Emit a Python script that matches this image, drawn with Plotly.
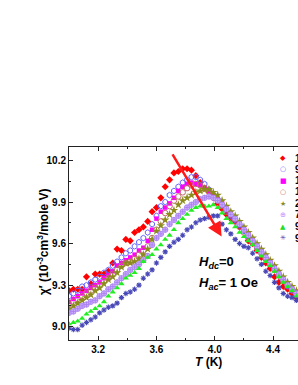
import plotly.graph_objects as go

T = [3.00,3.03,3.06,3.09,3.12,3.15,3.18,3.21,3.24,3.27,
     3.30,3.33,3.36,3.39,3.42,3.45,3.48,3.51,3.54,3.57,
     3.60,3.63,3.66,3.69,3.72,3.75,3.78,3.81,3.84,3.87,
     3.90,3.93,3.96,3.99,4.02,4.05,4.08,4.11,4.14,4.17,
     4.20,4.23,4.26,4.29,4.32,4.35,4.38,4.41,4.44,4.47,
     4.50,4.53,4.56]

chi_s1 = [9.26,9.27,9.27,9.27,9.36,9.31,9.38,9.38,9.38,9.40,
          9.46,9.56,9.55,9.63,9.62,9.68,9.70,9.72,9.76,9.83,
          9.86,9.93,10.01,10.06,10.11,10.12,10.14,10.14,10.13,10.09,
          10.04,10.00,9.97,9.93,9.89,9.85,9.81,9.78,9.76,9.72,
          9.70,9.62,9.60,9.55,9.50,9.46,9.42,9.36,9.32,9.29,
          9.27,9.24,9.21]
chi_s2 = [9.22,9.24,9.26,9.29,9.30,9.32,9.34,9.36,9.39,9.41,
          9.44,9.47,9.50,9.53,9.55,9.58,9.61,9.64,9.68,9.74,
          9.80,9.87,9.90,9.95,9.98,10.01,10.04,10.06,10.08,10.08,
          10.06,10.03,9.99,9.95,9.92,9.88,9.84,9.80,9.77,9.73,
          9.69,9.65,9.61,9.57,9.53,9.49,9.45,9.41,9.37,9.33,
          9.29,9.26,9.23]
chi_s3 = [9.18,9.20,9.22,9.24,9.26,9.28,9.30,9.32,9.35,9.37,
          9.40,9.44,9.46,9.48,9.50,9.52,9.55,9.57,9.62,9.70,
          9.78,9.83,9.86,9.89,9.93,9.98,10.01,10.03,10.04,10.03,
          10.02,10.00,9.98,9.95,9.92,9.89,9.85,9.81,9.78,9.74,
          9.71,9.67,9.63,9.59,9.55,9.51,9.47,9.43,9.39,9.34,
          9.31,9.27,9.24]
chi_s4 = [9.16,9.18,9.20,9.22,9.24,9.26,9.28,9.30,9.33,9.35,
          9.38,9.41,9.44,9.46,9.47,9.49,9.52,9.55,9.58,9.64,
          9.70,9.76,9.82,9.87,9.91,9.94,9.97,10.00,10.02,10.03,
          10.02,10.00,9.98,9.95,9.91,9.87,9.83,9.79,9.76,9.72,
          9.68,9.64,9.61,9.57,9.53,9.49,9.45,9.41,9.37,9.33,
          9.30,9.27,9.24]
chi_s5 = [9.13,9.15,9.17,9.19,9.21,9.23,9.26,9.28,9.31,9.34,
          9.36,9.39,9.43,9.46,9.46,9.47,9.49,9.52,9.56,9.63,
          9.69,9.73,9.77,9.81,9.84,9.88,9.91,9.93,9.95,9.97,
          9.98,9.99,9.99,9.97,9.95,9.91,9.87,9.83,9.80,9.76,
          9.72,9.68,9.64,9.60,9.56,9.52,9.48,9.44,9.40,9.36,
          9.32,9.29,9.26]
chi_s6 = [9.10,9.11,9.13,9.15,9.16,9.18,9.19,9.22,9.24,9.27,
          9.29,9.32,9.35,9.38,9.41,9.43,9.45,9.48,9.51,9.59,
          9.64,9.67,9.70,9.74,9.77,9.80,9.83,9.86,9.88,9.90,
          9.92,9.93,9.94,9.93,9.91,9.88,9.85,9.81,9.78,9.74,
          9.70,9.66,9.62,9.58,9.54,9.50,9.46,9.42,9.38,9.34,
          9.30,9.27,9.24]
chi_s7 = [9.02,9.03,9.04,9.06,9.09,9.11,9.13,9.15,9.18,9.22,
          9.25,9.28,9.31,9.35,9.37,9.39,9.42,9.47,9.50,9.52,
          9.56,9.59,9.63,9.66,9.70,9.75,9.78,9.81,9.84,9.86,
          9.87,9.87,9.87,9.88,9.86,9.82,9.78,9.75,9.72,9.68,
          9.65,9.62,9.59,9.55,9.51,9.47,9.44,9.40,9.36,9.32,
          9.29,9.26,9.22]
chi_s8 = [8.99,8.98,8.98,9.01,9.03,9.05,9.07,9.10,9.12,9.14,
          9.15,9.17,9.21,9.24,9.25,9.27,9.30,9.35,9.38,9.41,
          9.46,9.50,9.54,9.58,9.61,9.63,9.66,9.70,9.72,9.75,
          9.77,9.78,9.79,9.80,9.80,9.74,9.70,9.67,9.63,9.60,
          9.58,9.57,9.53,9.49,9.45,9.40,9.37,9.32,9.28,9.24,
          9.22,9.21,9.19]

series_labels = ["1 Hz", "9 Hz", "17 Hz", "117 Hz", "297 Hz", "797 Hz", "997 Hz", "9997 Hz"]
series_values = [chi_s1, chi_s2, chi_s3, chi_s4, chi_s5, chi_s6, chi_s7, chi_s8]

x_ticks = [3.2, 3.6, 4.0, 4.4]
y_ticks = [9.0, 9.3, 9.6, 9.9, 10.2]

styles = [
    dict(symbol="diamond", size=5.5, color="#ff0000", line=dict(width=0)),
    dict(symbol="hexagon-open", size=5.5, color="#6464ff", line=dict(width=1)),
    dict(symbol="square", size=4.5, color="#ff00ff", line=dict(width=0)),
    dict(symbol="circle-open", size=5.5, color="#c46a6a", line=dict(width=1)),
    dict(symbol="star", size=6.5, color="#8c8c1c", line=dict(width=0)),
    dict(symbol="circle-cross", size=5.5, color="#cfaeff", line=dict(width=0.8, color="#a47cf0")),
    dict(symbol="triangle-up", size=5.5, color="#22ee22", line=dict(width=0)),
    dict(symbol="asterisk-open", size=4.5, color="#4848b8", line=dict(width=1.1, color="#4848b8")),
]
legend_glyphs = ["◆", "○", "■", "○", "★", "⊕", "▲", "✳"]
legend_colors = ["#ff0000", "#6464ff", "#ff00ff", "#c46a6a", "#8c8c1c", "#b88cff", "#22dd22", "#4848b8"]

fig = go.Figure()
for lab, vals, st in zip(series_labels, series_values, styles):
    fig.add_trace(go.Scatter(x=T, y=vals, mode="markers", name=lab, marker=st,
                             showlegend=False))

FONT = "Liberation Sans, Arial, sans-serif"
ann = []
ann.append(dict(x=4.047, y=9.651, ax=3.704, ay=10.254, xref="x", yref="y",
                axref="x", ayref="y", text="", showarrow=True,
                arrowhead=2, arrowsize=1.15, arrowwidth=2.5, arrowcolor="#ff1a1a",
                standoff=0))
ann.append(dict(x=3.878, y=9.46, xref="x", yref="y", xanchor="left", yanchor="middle",
                text="<i>H</i><sub><i>dc</i></sub>=0", showarrow=False,
                font=dict(family=FONT, size=13, color="black", weight="bold")))
ann.append(dict(x=3.878, y=9.31, xref="x", yref="y", xanchor="left", yanchor="middle",
                text="<i>H</i><sub><i>ac</i></sub>= 1 Oe", showarrow=False,
                font=dict(family=FONT, size=13, color="black", weight="bold")))
row_y = [0.943, 0.886, 0.826, 0.767, 0.707, 0.648, 0.588, 0.528]
for g, c, lab, yy in zip(legend_glyphs, legend_colors, series_labels, row_y):
    ann.append(dict(x=0.9345, y=yy, xref="paper", yref="paper", xanchor="center",
                    yanchor="middle", text=g, showarrow=False,
                    font=dict(family="DejaVu Sans", size=7, color=c)))
    ann.append(dict(x=0.976, y=yy, xref="paper", yref="paper", xanchor="left",
                    yanchor="middle", text=lab, showarrow=False,
                    font=dict(family=FONT, size=10, color="black", weight="bold")))
# axis titles
ann.append(dict(x=-0.113, y=0.508, xref="paper", yref="paper", xanchor="center",
                yanchor="middle", textangle=-90, showarrow=False,
                text="χ′ (10<sup>-3</sup>cm<sup>3</sup>/mole V)",
                font=dict(family=FONT, size=12, color="black", weight="bold")))
ann.append(dict(x=0.607, y=-0.114, xref="paper", yref="paper", xanchor="center",
                yanchor="middle", showarrow=False, text="<i>T</i> (K)",
                font=dict(family=FONT, size=12, color="black", weight="bold")))

fig.update_layout(
    width=298, height=385,
    margin=dict(l=69, r=0, t=147, b=45, autoexpand=False),
    paper_bgcolor="white", plot_bgcolor="white",
    font=dict(family=FONT, color="black"),
    annotations=ann,
    showlegend=False,
)
fig.update_xaxes(
    automargin=False,
    range=[3.0, 4.571], tickvals=x_ticks, ticktext=[f"{v:.1f}" for v in x_ticks],
    ticks="inside", ticklen=4, tickwidth=1, tickcolor="#222",
    minor=dict(dtick=0.2, tick0=3.0, ticks="inside", ticklen=2, tickcolor="#222"),
    showline=True, linecolor="#222", linewidth=1, mirror="allticks",
    showgrid=False, zeroline=False,
    tickfont=dict(family=FONT, size=10, weight="bold"),
)
fig.update_yaxes(
    automargin=False,
    range=[8.904, 10.297], tickvals=y_ticks, ticktext=[f"{v:.1f}" for v in y_ticks],
    ticks="inside", ticklen=4, tickwidth=1, tickcolor="#222",
    minor=dict(dtick=0.15, tick0=9.0, ticks="inside", ticklen=2, tickcolor="#222"),
    showline=True, linecolor="#222", linewidth=1, mirror=False,
    showgrid=False, zeroline=False,
    tickfont=dict(family=FONT, size=10, weight="bold"),
)
fig.write_html("out.html", config={"displayModeBar": False},
               post_script="document.body.style.margin='0';document.body.style.overflow='hidden';")
